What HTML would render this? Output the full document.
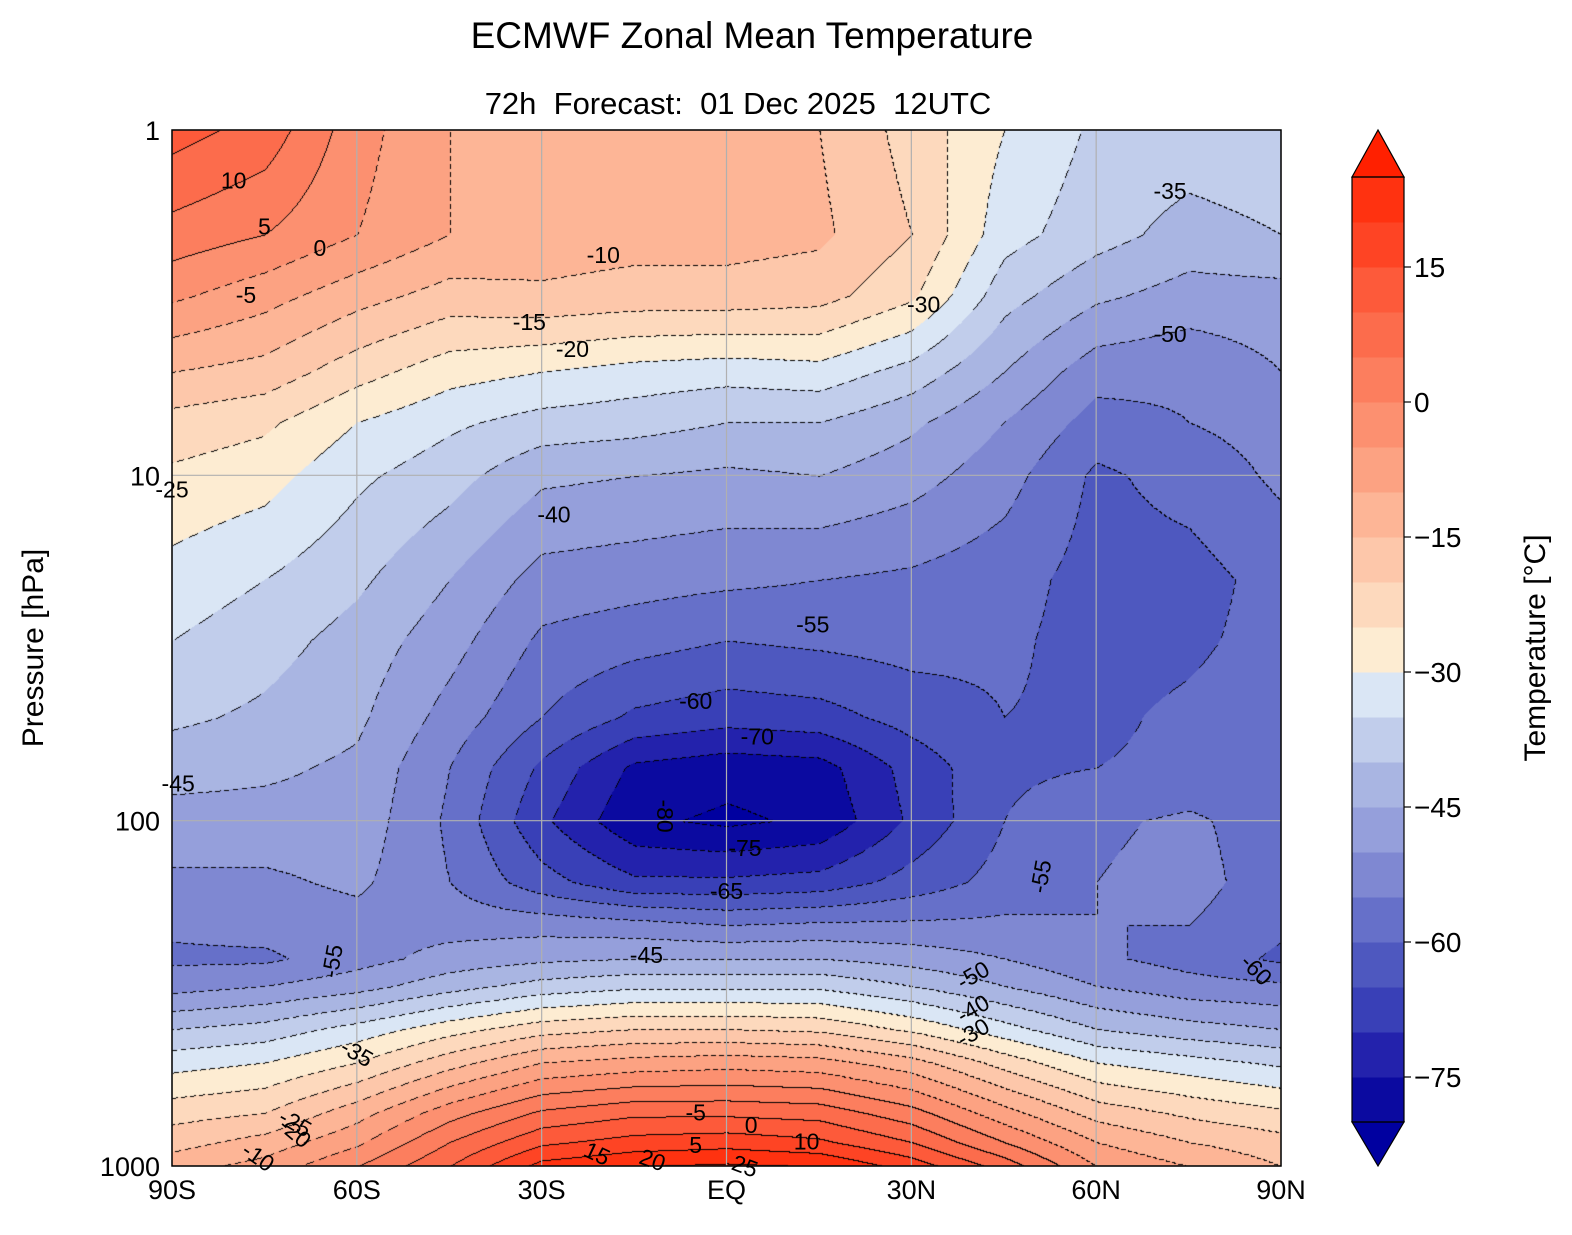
<!DOCTYPE html>
<html><head><meta charset="utf-8"><style>
body{margin:0;background:#fff;font-family:"Liberation Sans","DejaVu Sans",sans-serif}
#wrap{position:relative;width:1572px;height:1235px}
canvas{position:absolute;left:172px;top:130px}
svg{position:absolute;left:0;top:0}
text{white-space:pre}
</style></head><body>
<div id="wrap">
<canvas id="cv" width="1109" height="1036"></canvas>
<svg id="sv" width="1572" height="1235"></svg>
</div>
<script>
const lats=[-90,-75,-60,-45,-30,-15,0,15,30,45,60,75,90];
const pressures=[1,2,3,5,7,10,20,30,50,70,100,150,200,250,300,400,500,700,850,1000];
const temps=[
[12,8,-3,-10,-12,-14,-12,-15,-22,-30,-36,-37,-36],
[3,0,-5,-10,-12,-13,-13,-14,-20,-33,-38,-42,-40],
[-4,-8,-13,-17,-16,-17,-17,-18,-24,-38,-44,-47,-47],
[-15,-17,-23,-28,-30,-32,-33,-32,-37,-45,-53,-54,-50],
[-22,-24,-30,-34,-37,-38,-40,-40,-44,-50,-57,-55,-53],
[-26,-28,-34,-38,-44,-45,-46,-45,-48,-53,-61,-58,-54],
[-32,-35,-39,-45,-52,-53,-54,-55,-56,-58,-62,-62,-58],
[-35,-38,-42,-48,-56,-58,-60,-59,-58,-59,-62,-61,-58],
[-39,-41,-44,-52,-60,-66,-68,-67,-63,-60,-61,-59,-57],
[-43,-44,-46,-55,-66,-76,-78,-77,-68,-61,-60,-59,-58],
[-47,-47,-47,-56,-69,-79,-81,-79,-69,-60,-56,-54,-58],
[-51,-51,-49,-55,-63,-69,-69,-68,-63,-58,-55,-53,-58],
[-54,-53,-52,-52,-52,-53,-55,-54,-54,-54,-55,-55,-59],
[-56,-56,-52,-48,-46,-45,-45,-45,-47,-50,-54,-57,-61],
[-52,-50,-47,-42,-38,-36,-36,-36,-40,-45,-50,-53,-54],
[-40,-38,-33,-27,-22,-20,-20,-21,-26,-33,-40,-43,-45],
[-32,-30,-25,-17,-10,-8,-7,-8,-13,-22,-30,-33,-36],
[-22,-20,-12,-2,6,9,9,8,2,-8,-17,-21,-24],
[-17,-13,-6,5,14,17,18,16,10,0,-10,-15,-18],
[-12,-8,0,10,22,25,26,25,18,8,-5,-10,-15]];
const levelColors=["#0b0aa0","#2322ac","#3940b7","#4e58bf","#6670c9","#7f88d2","#959fdb","#a9b5e2","#c1cdeb","#dae6f5","#fdecd2","#fdd9bd","#fdc7aa","#fdb596","#fca282","#fc9070","#fc7e5e","#fc6c4c","#fd5a3a","#fe4424","#ff3210"];
const cbTicks=[15,0,-15,-30,-45,-60,-75];
const xTicks=["90S","60S","30S","EQ","30N","60N","90N"];
const xTickLats=[-90,-60,-30,0,30,60,90];
const yTicks=[1,10,100,1000];

const X0=172,X1=1281,Y0=130,Y1=1166;
const xs=lat=>X0+(lat+90)/180*(X1-X0);
const ys=p=>Y0+Math.log10(p)/3*(Y1-Y0);
const W=X1-X0,H=Y1-Y0;
function hex(c){return [parseInt(c.slice(1,3),16),parseInt(c.slice(3,5),16),parseInt(c.slice(5,7),16)];}
const rgb=levelColors.map(hex);
const lp=pressures.map(p=>Math.log10(p));
function sample(px,py){
  const lat=px/W*180-90, l=py/H*3;
  let i=Math.min(Math.floor((lat+90)/15),lats.length-2); let fx=(lat-lats[i])/15;
  let j=0; while(j<lp.length-2&&l>lp[j+1]) j++;
  let fy=(l-lp[j])/(lp[j+1]-lp[j]); fy=Math.max(0,Math.min(1,fy)); fx=Math.max(0,Math.min(1,fx));
  const a=temps[j][i],b=temps[j][i+1],c=temps[j+1][i],d=temps[j+1][i+1];
  return a*(1-fx)*(1-fy)+b*fx*(1-fy)+c*(1-fx)*fy+d*fx*fy;
}
const cv=document.getElementById('cv'),ctx=cv.getContext('2d');
const img=ctx.createImageData(W,H);
const lev=new Int16Array(W*H);
for(let y=0;y<H;y++)for(let x=0;x<W;x++){lev[y*W+x]=Math.floor((sample(x,y)+80)/5);}
for(let y=0;y<H;y++)for(let x=0;x<W;x++){
  const k=y*W+x;let L=lev[k];
  let c=L<0?[0,0,160]:L>20?[255,32,0]:rgb[L];
  let edge=(x>0&&lev[k-1]!==L)||(y>0&&lev[k-W]!==L);
  if(edge){const lvT=Math.max(L,x>0?lev[k-1]:L,y>0?lev[k-W]:L)*5-80;
    if(lvT>=0||((x+y)%8<5)) c=[0,0,0];}
  img.data[k*4]=c[0];img.data[k*4+1]=c[1];img.data[k*4+2]=c[2];img.data[k*4+3]=255;
}
ctx.putImageData(img,0,0);

const sv=document.getElementById('sv');const NS="http://www.w3.org/2000/svg";
function el(t,a,txt){const e=document.createElementNS(NS,t);for(const k in a)e.setAttribute(k,a[k]);if(txt!==undefined)e.textContent=txt;sv.appendChild(e);return e;}
xTickLats.forEach((lat,i)=>{
  const g=el('line',{x1:xs(lat),x2:xs(lat),y1:Y0,y2:Y1,stroke:'#b0b0b0','stroke-width':1.2});
  
  
  const t=el('text',{x:xs(lat),y:1199,'font-size':27,'text-anchor':'middle'},xTicks[i]);
  
  
});
yTicks.forEach(p=>{
  const g=el('line',{x1:X0,x2:X1,y1:ys(p),y2:ys(p),stroke:'#b0b0b0','stroke-width':1.2});
  
  
  const t=el('text',{x:160,y:ys(p)+10,'font-size':27,'text-anchor':'end'},String(p));
  
  
});
const fr=el('rect',{x:X0,y:Y0,width:W,height:H,fill:'none',stroke:'#000','stroke-width':1.5});


const labels=[[-10,97,"-80",90],[5,57,"-70",0],[3,120,"-75",0],[0,160,"-65",0],[-5,45,"-60",0],[14,27,"-55",0],[-28,13,"-40",0],[-20,2.3,"-10",0],[-32,3.6,"-15",0],[-25,4.3,"-20",0],[-78,3.0,"-5",0],[-75,1.9,"5",0],[-80,1.4,"10",0],[-66,2.2,"0",0],[32,3.2,"-30",0],[72,1.5,"-35",0],[72,3.9,"-50",0],[-90,11,"-25",0],[-89,78,"-45",0],[-13,245,"-45",0],[-64,255,"-55",-80],[-60,470,"-35",30],[51,145,"-55",-80],[86,270,"-60",45],[40,280,"-50",-30],[40,350,"-40",-30],[40,410,"-30",-30],[-5,700,"-5",0],[4,760,"0",0],[-5,870,"5",0],[13,850,"10",0],[-21,920,"15",25],[-12,960,"20",20],[3,1000,"25",20],[-76,940,"-10",35],[-70,800,"-20",40],[-70,750,"-25",30]];
labels.forEach(l=>{
  const x=xs(l[0]),y=ys(l[1]);
  const t=el('text',{x:x,y:y+8,'font-size':23,'text-anchor':'middle',fill:'#000',transform:`rotate(${l[3]},${x},${y})`},l[2]);
  
  
});
const CB0=177,CB1=1122,CX=1352,CW=52;
const cy=v=>CB1-(v+80)/105*(CB1-CB0);
levelColors.forEach((c,i)=>{
  const v=-80+i*5;
  const r=el('rect',{x:CX,y:cy(v+5),width:CW,height:cy(v)-cy(v+5)+0.5,fill:c});
  
  
});
const tu=el('polygon',{points:`${CX},${CB0} ${CX+CW/2},130 ${CX+CW},${CB0}`,fill:'#ff2000',stroke:'#000','stroke-width':1.2});


const td=el('polygon',{points:`${CX},${CB1} ${CX+CW/2},1166 ${CX+CW},${CB1}`,fill:'#0000a0',stroke:'#000','stroke-width':1.2});


const cf=el('rect',{x:CX,y:CB0,width:CW,height:CB1-CB0,fill:'none',stroke:'#000','stroke-width':1.2});


cbTicks.forEach(v=>{
  el('line',{x1:CX+CW,x2:CX+CW+7,y1:cy(v),y2:cy(v),stroke:'#000','stroke-width':1.2});
  const t=el('text',{x:1414,y:cy(v)+10,'font-size':28},(v<0?'\u2212':'')+Math.abs(v));
  
  
});
</script>
<svg width="1572" height="1235" style="position:absolute;left:0;top:0;pointer-events:none">
<text x="752" y="48" font-size="37" text-anchor="middle">ECMWF Zonal Mean Temperature</text>
<text x="738" y="114" font-size="31" text-anchor="middle">72h  Forecast:  01 Dec 2025  12UTC</text>
<text transform="translate(43,648) rotate(-90)" font-size="30" text-anchor="middle">Pressure [hPa]</text>
<text transform="translate(1545,648) rotate(-90)" font-size="30" text-anchor="middle">Temperature [°C]</text>
</svg>
</body></html>
